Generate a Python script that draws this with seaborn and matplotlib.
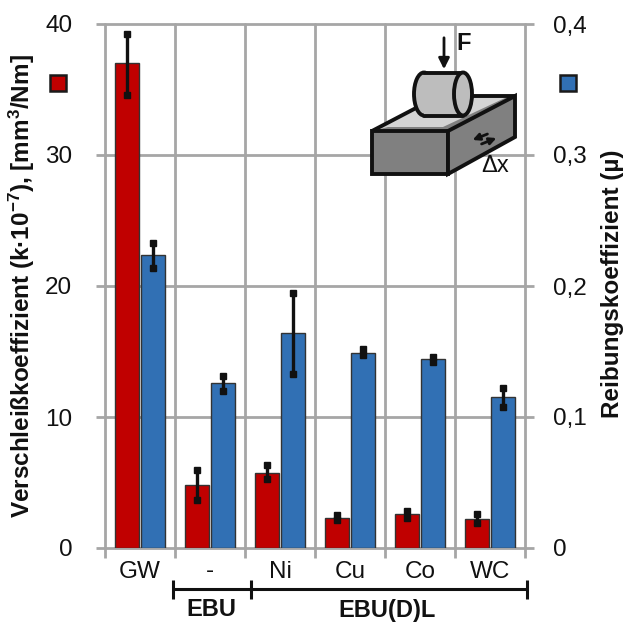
import matplotlib
matplotlib.use("Agg")
import matplotlib.pyplot as plt
import numpy as np
import pandas as pd
import seaborn as sns
from matplotlib.patches import Polygon, Rectangle, Ellipse

categories = ["GW", "-", "Ni", "Cu", "Co", "WC"]
wear = [37.0, 4.8, 5.7, 2.3, 2.6, 2.2]
wear_low = [34.6, 3.7, 5.3, 2.1, 2.3, 1.9]
wear_high = [39.2, 5.95, 6.3, 2.5, 2.8, 2.6]
friction = [0.224, 0.126, 0.164, 0.149, 0.144, 0.115]
fric_low = [0.214, 0.120, 0.133, 0.147, 0.142, 0.108]
fric_high = [0.233, 0.131, 0.195, 0.152, 0.146, 0.122]

RED, BLUE, GRID, DARK = "#C00000", "#3170B4", "#A6A6A6", "#111111"
sns.set_theme(style="white")
plt.rcParams["font.family"] = ["Liberation Sans", "DejaVu Sans"]
plt.rcParams.update({"mathtext.fontset": "custom", "mathtext.rm": "Liberation Sans:bold",
                     "mathtext.default": "rm"})

W, H = 624, 622
fig = plt.figure(figsize=(W / 100, H / 100), dpi=100, facecolor="white")
ax = fig.add_axes([105 / W, (H - 548) / H, 420 / W, 524 / H])
ax2 = ax.twinx()

n = len(categories)
df_left = pd.DataFrame({"cat": categories * 2, "v": wear + [np.nan] * n,
                        "s": ["k"] * n + ["mu"] * n})
df_right = pd.DataFrame({"cat": categories * 2, "v": [np.nan] * n + friction,
                         "s": ["k"] * n + ["mu"] * n})
pal = {"k": RED, "mu": BLUE}
kw = dict(x="cat", y="v", hue="s", order=categories, hue_order=["k", "mu"], palette=pal,
          width=0.74, gap=0.08, saturation=1, legend=False, errorbar=None,
          edgecolor="#333333", linewidth=1)
sns.barplot(data=df_left, ax=ax, zorder=3, **kw)
sns.barplot(data=df_right, ax=ax2, zorder=3, **kw)


def whiskers(a, lo, hi):
    bars = [p for p in a.patches if np.isfinite(p.get_height()) and p.get_height() > 0]
    xs = [p.get_x() + p.get_width() / 2 for p in bars]
    a.vlines(xs, lo, hi, color=DARK, lw=2.4, zorder=5)
    a.plot(xs + xs, list(lo) + list(hi), ls="", marker="s", ms=4.2, color=DARK, zorder=6,
           clip_on=False)


whiskers(ax, wear_low, wear_high)
whiskers(ax2, fric_low, fric_high)

ax.set_xlim(-0.5, n - 0.5)
ax2.set_xlim(-0.5, n - 0.5)
ax.set_ylim(0, 40)
ax2.set_ylim(0, 0.4)
ax.set_yticks([0, 10, 20, 30, 40])
ax.set_yticklabels(["0", "10", "20", "30", "40"])
ax2.set_yticks([0, 0.1, 0.2, 0.3, 0.4])
ax2.set_yticklabels(["0", "0,1", "0,2", "0,3", "0,4"])
ax.set_xticks(range(n))
ax.set_xticklabels(categories)
ax.set_xticks(np.arange(-0.5, n), minor=True)
ax.set_xlabel("")
ax.set_ylabel("")
ax2.set_xlabel("")
ax2.set_ylabel("")

ax.grid(True, which="minor", axis="x", color=GRID, lw=2, zorder=1, clip_on=False)
ax.grid(True, which="major", axis="y", color=GRID, lw=2, zorder=1, clip_on=False)
ax.grid(False, which="major", axis="x")
ax.set_axisbelow(True)
ax2.grid(False)
ax2.patch.set_visible(False)
for a in (ax, ax2):
    for s in a.spines.values():
        s.set_visible(False)
ax.tick_params(axis="x", which="major", length=0, labelsize=17.5, pad=9, labelcolor="#111111")
ax.tick_params(axis="x", which="minor", length=7, width=2, color=GRID, bottom=True)
ax.tick_params(axis="y", which="major", length=6.5, width=2, color=GRID, labelsize=17.5,
               pad=17, labelcolor="#111111", left=True)
ax2.tick_params(axis="y", which="major", length=6.5, width=2, color=GRID, labelsize=17.5,
                pad=14, labelcolor="#111111", right=True)

# overlay in pixel coordinates for the annotations and the schematic
ov = fig.add_axes([0, 0, 1, 1], zorder=10)
ov.set_xlim(0, W)
ov.set_ylim(H, 0)
ov.axis("off")
ov.patch.set_visible(False)

ov.text(22, 286, "Verschleißkoeffizient (k·10$^{-7}$), [mm$^{3}$/Nm]", rotation=90, ha="center",
        va="center", fontsize=17.5, fontweight="bold", color="#111111")
ov.text(612, 284, "Reibungskoeffizient (µ)", rotation=90, ha="center", va="center",
        fontsize=17.5, fontweight="bold", color="#111111")

ov.add_patch(Rectangle((50, 75), 16, 16, fc=RED, ec="#1a1a1a", lw=1.8))
ov.add_patch(Rectangle((560, 75), 16, 16, fc=BLUE, ec="#1a1a1a", lw=1.8))

# group brackets
ov.plot([173, 527], [589, 589], color=DARK, lw=2.2, solid_capstyle="butt")
for x0, y0, y1 in [(173, 580, 599), (251, 580, 599), (527, 580, 599)]:
    ov.plot([x0, x0], [y0, y1], color=DARK, lw=2.2, solid_capstyle="butt")
ov.text(211, 610, "EBU", ha="center", va="center", fontsize=17, fontweight="bold", color="#111111")
ov.text(387, 610, "EBU(D)L", ha="center", va="center", fontsize=17, fontweight="bold", color="#111111")

# schematic
lw = 2.8
ov.add_patch(Polygon([(372, 131), (448, 131), (515, 96), (439, 96)], fc="#D4D4D4", ec="#111111", lw=lw, zorder=2))
ov.add_patch(Polygon([(372, 131), (448, 131), (511, 98), (505, 98), (443, 127), (388, 127)],
                     fc="#808080", ec="none", zorder=2.1))
ov.add_patch(Polygon([(372, 131), (448, 131), (448, 174), (372, 174)], fc="#808080", ec="#111111", lw=lw, zorder=3))
ov.add_patch(Polygon([(448, 131), (515, 96), (515, 137), (448, 174)], fc="#808080", ec="#111111", lw=lw, zorder=3))
ov.add_patch(Ellipse((424, 94), 20, 43, fc="#BDBDBD", ec="#111111", lw=lw, zorder=3.9))
ov.add_patch(Rectangle((424, 73), 39, 42, fc="#BDBDBD", ec="none", zorder=4))
ov.plot([424, 463], [72.5, 72.5], color="#111111", lw=lw, zorder=5)
ov.plot([424, 463], [115.5, 115.5], color="#111111", lw=lw, zorder=5)
ov.add_patch(Ellipse((463, 94), 18, 43, fc="#BDBDBD", ec="#111111", lw=lw, zorder=5))
ov.annotate("", xy=(444, 72), xytext=(444, 35),
            arrowprops=dict(arrowstyle="-|>", color="#111111", lw=2, mutation_scale=16), zorder=6)
ov.annotate("", xy=(470, 141), xytext=(490, 133),
            arrowprops=dict(arrowstyle="-|>", color="#111111", lw=2, mutation_scale=10), zorder=6)
ov.annotate("", xy=(499, 137), xytext=(479, 145),
            arrowprops=dict(arrowstyle="-|>", color="#111111", lw=2, mutation_scale=10), zorder=6)
ov.text(464, 43, "F", ha="center", va="center", fontsize=17, fontweight="bold", color="#111111", zorder=6)
ov.text(495, 166, "Δx", ha="center", va="center", fontsize=17, color="#111111", zorder=6)

fig.savefig("out.png", dpi=100)
